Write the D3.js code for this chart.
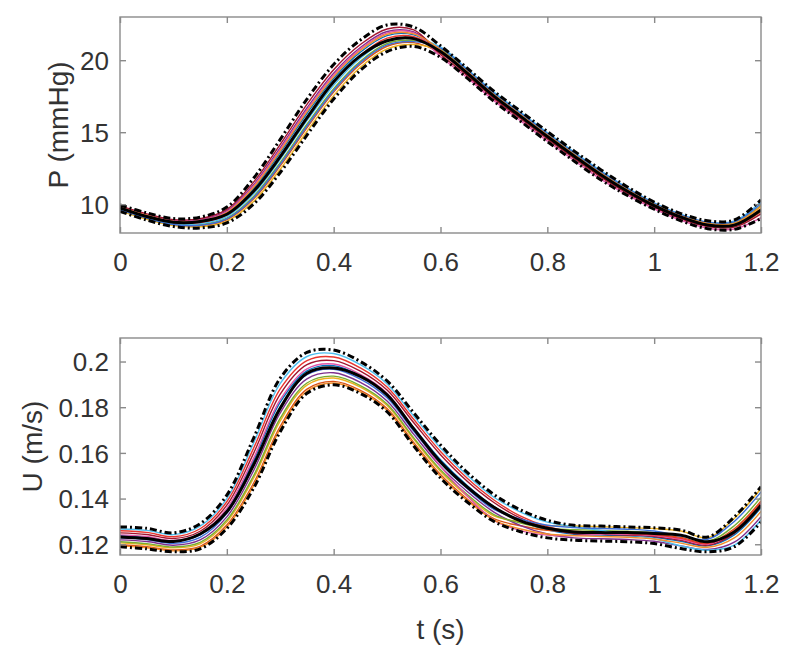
<!DOCTYPE html>
<html>
<head>
<meta charset="utf-8">
<script src="https://cdn.jsdelivr.net/npm/d3@7"></script>
<style>
  html, body { margin: 0; padding: 0; background: #fff; }
  svg { display: block; }
  text { font-family: "Liberation Sans", Arial, sans-serif; fill: #333; }
</style>
</head>
<body>
<svg id="chart" width="800" height="659"></svg>
<script>
// ---------------- DATA ----------------
const tValues = [0, 0.05, 0.1, 0.15, 0.2, 0.25, 0.3, 0.35, 0.4, 0.45, 0.5, 0.55, 0.6,
                 0.65, 0.7, 0.75, 0.8, 0.85, 0.9, 0.95, 1.0, 1.05, 1.1, 1.15, 1.2];

const xTicks = [0, 0.2, 0.4, 0.6, 0.8, 1.0, 1.2];
const xTickLabels = ["0", "0.2", "0.4", "0.6", "0.8", "1", "1.2"];
const pTicks = [10, 15, 20];
const pTickLabels = ["10", "15", "20"];
const uTicks = [0.12, 0.14, 0.16, 0.18, 0.2];
const uTickLabels = ["0.12", "0.14", "0.16", "0.18", "0.2"];

// Pressure (mmHg)
const pMean  = [9.75, 9.15, 8.75, 8.8, 9.3, 10.9, 13.3, 16.0, 18.5, 20.3, 21.35, 21.5, 20.6, 19.1, 17.5, 16.1, 14.7, 13.35, 12.05, 10.9, 9.9, 9.1, 8.55, 8.55, 9.6];
const pUpper = [9.95, 9.4, 9.0, 9.1, 9.8, 11.8, 14.5, 17.3, 19.7, 21.4, 22.45, 22.3, 21.0, 19.45, 17.85, 16.45, 15.05, 13.7, 12.4, 11.2, 10.15, 9.35, 8.85, 8.9, 10.3];
const pLower = [9.5, 8.9, 8.45, 8.35, 8.7, 10.0, 12.2, 14.8, 17.3, 19.3, 20.6, 20.95, 20.2, 18.75, 17.15, 15.75, 14.35, 13.0, 11.7, 10.6, 9.65, 8.85, 8.3, 8.25, 9.0];
const pRuns = [
  [9.77, 9.2, 8.78, 8.8, 9.36, 11.08, 13.58, 16.3, 18.74, 20.56, 21.71, 21.76, 20.68, 19.1, 17.5, 16.1, 14.7, 13.35, 12.05, 10.9, 9.9, 9.1, 8.58, 8.58, 9.65],
  [9.59, 9.0, 8.56, 8.5, 8.92, 10.36, 12.66, 15.3, 17.78, 19.72, 20.97, 21.22, 20.48, 19.0, 17.4, 16.0, 14.6, 13.25, 11.95, 10.81, 9.83, 9.03, 8.49, 8.48, 9.46],
  [9.55, 8.95, 8.51, 8.43, 8.81, 10.18, 12.43, 15.05, 17.54, 19.51, 20.79, 21.09, 20.64, 19.14, 17.54, 16.14, 14.74, 13.39, 12.09, 10.93, 9.93, 9.13, 8.6, 8.61, 9.72],
  [9.84, 9.28, 8.86, 8.91, 9.53, 11.35, 13.93, 16.68, 19.1, 20.88, 21.99, 21.96, 20.56, 19.07, 17.47, 16.07, 14.67, 13.32, 12.02, 10.87, 9.88, 9.08, 8.55, 8.54, 9.59],
  [9.64, 9.05, 8.62, 8.58, 9.03, 10.54, 12.89, 15.55, 18.02, 19.93, 21.16, 21.36, 20.76, 19.24, 17.64, 16.24, 14.84, 13.49, 12.19, 11.02, 10.0, 9.2, 8.69, 8.71, 9.91],
  [9.68, 9.1, 8.67, 8.65, 9.14, 10.72, 13.12, 15.8, 18.26, 20.14, 21.34, 21.49, 20.92, 19.38, 17.78, 16.38, 14.98, 13.63, 12.33, 11.14, 10.1, 9.3, 8.75, 8.84, 10.17],
  [9.88, 9.33, 8.92, 8.99, 9.64, 11.53, 14.16, 16.93, 19.34, 21.09, 22.17, 22.1, 20.4, 18.93, 17.33, 15.93, 14.53, 13.18, 11.88, 10.75, 9.78, 8.98, 8.44, 8.41, 9.33],
  [9.82, 9.25, 8.84, 8.88, 9.47, 11.26, 13.81, 16.55, 18.98, 20.77, 21.9, 21.9, 20.24, 18.79, 17.19, 15.79, 14.39, 13.04, 11.74, 10.63, 9.68, 8.88, 8.33, 8.28, 9.07],
  [9.73, 9.15, 8.73, 8.73, 9.25, 10.9, 13.35, 16.05, 18.5, 20.35, 21.53, 21.63, 20.6, 19.1, 17.5, 16.1, 14.7, 13.35, 12.05, 10.9, 9.9, 9.1, 8.58, 8.58, 9.65],
  [9.61, 9.03, 8.59, 8.54, 8.98, 10.45, 12.78, 15.43, 17.9, 19.83, 21.06, 21.29, 20.84, 19.31, 17.71, 16.31, 14.91, 13.56, 12.26, 11.08, 10.05, 9.25, 8.74, 8.77, 10.04],
  [9.79, 9.23, 8.81, 8.84, 9.42, 11.17, 13.7, 16.43, 18.86, 20.67, 21.8, 21.83, 20.72, 19.21, 17.61, 16.21, 14.81, 13.46, 12.16, 10.99, 9.98, 9.18, 8.66, 8.67, 9.85]
];

// Velocity (m/s)
const uMean  = [0.1232, 0.1225, 0.1212, 0.1245, 0.1342, 0.1547, 0.1796, 0.1949, 0.1972, 0.1935, 0.1854, 0.1705, 0.1560, 0.1450, 0.1362, 0.1302, 0.1270, 0.1254, 0.1251, 0.1251, 0.1247, 0.1240, 0.1211, 0.1254, 0.1371];
const uUpper = [0.1276, 0.1270, 0.1250, 0.1290, 0.1415, 0.1664, 0.1927, 0.2040, 0.2050, 0.2000, 0.1915, 0.1775, 0.1635, 0.1515, 0.1418, 0.1350, 0.1305, 0.1283, 0.1280, 0.1276, 0.1272, 0.1262, 0.1232, 0.1320, 0.1452];
const uLower = [0.1189, 0.1180, 0.1167, 0.1180, 0.1269, 0.1445, 0.1693, 0.1861, 0.1898, 0.1860, 0.1780, 0.1630, 0.1490, 0.1385, 0.1300, 0.1255, 0.1228, 0.1218, 0.1214, 0.1211, 0.1203, 0.1181, 0.1167, 0.1189, 0.1298];
const uRuns = [
  [0.1237, 0.1230, 0.1213, 0.1241, 0.1349, 0.1565, 0.1822, 0.1959, 0.1982, 0.1937, 0.1854, 0.1710, 0.1570, 0.1457, 0.1365, 0.1303, 0.1263, 0.1244, 0.1240, 0.1237, 0.1231, 0.1213, 0.1193, 0.1241, 0.1360],
  [0.1198, 0.1189, 0.1175, 0.1191, 0.1284, 0.1467, 0.1716, 0.1879, 0.1913, 0.1874, 0.1794, 0.1645, 0.1505, 0.1398, 0.1312, 0.1281, 0.1261, 0.1257, 0.1254, 0.1250, 0.1244, 0.1230, 0.1206, 0.1268, 0.1390],
  [0.1206, 0.1198, 0.1184, 0.1202, 0.1298, 0.1489, 0.1740, 0.1897, 0.1928, 0.1888, 0.1807, 0.1659, 0.1519, 0.1411, 0.1324, 0.1298, 0.1282, 0.1280, 0.1277, 0.1273, 0.1269, 0.1258, 0.1229, 0.1313, 0.1444],
  [0.1219, 0.1212, 0.1196, 0.1219, 0.1320, 0.1522, 0.1775, 0.1924, 0.1951, 0.1909, 0.1827, 0.1681, 0.1541, 0.1431, 0.1341, 0.1282, 0.1245, 0.1228, 0.1224, 0.1221, 0.1213, 0.1193, 0.1177, 0.1209, 0.1321],
  [0.1211, 0.1203, 0.1188, 0.1208, 0.1306, 0.1500, 0.1752, 0.1906, 0.1936, 0.1895, 0.1814, 0.1666, 0.1526, 0.1418, 0.1330, 0.1293, 0.1270, 0.1264, 0.1260, 0.1257, 0.1251, 0.1238, 0.1213, 0.1281, 0.1406],
  [0.1267, 0.1261, 0.1242, 0.1279, 0.1400, 0.1642, 0.1904, 0.2022, 0.2035, 0.1986, 0.1902, 0.1761, 0.1621, 0.1502, 0.1406, 0.1341, 0.1297, 0.1277, 0.1260, 0.1244, 0.1224, 0.1193, 0.1174, 0.1196, 0.1306],
  [0.1250, 0.1243, 0.1225, 0.1257, 0.1371, 0.1598, 0.1857, 0.1986, 0.2004, 0.1958, 0.1875, 0.1732, 0.1592, 0.1476, 0.1383, 0.1314, 0.1269, 0.1247, 0.1244, 0.1240, 0.1234, 0.1217, 0.1196, 0.1248, 0.1367],
  [0.1241, 0.1234, 0.1217, 0.1246, 0.1357, 0.1576, 0.1833, 0.1968, 0.1989, 0.1944, 0.1861, 0.1703, 0.1541, 0.1411, 0.1306, 0.1260, 0.1240, 0.1238, 0.1244, 0.1244, 0.1238, 0.1222, 0.1200, 0.1255, 0.1375],
  [0.1259, 0.1252, 0.1233, 0.1268, 0.1386, 0.1620, 0.1880, 0.2004, 0.2020, 0.1972, 0.1888, 0.1746, 0.1606, 0.1489, 0.1394, 0.1323, 0.1277, 0.1254, 0.1250, 0.1247, 0.1241, 0.1226, 0.1203, 0.1261, 0.1383],
  [0.1228, 0.1221, 0.1204, 0.1230, 0.1335, 0.1544, 0.1798, 0.1942, 0.1966, 0.1923, 0.1841, 0.1695, 0.1555, 0.1444, 0.1353, 0.1310, 0.1283, 0.1273, 0.1269, 0.1266, 0.1258, 0.1236, 0.1222, 0.1300, 0.1429],
  [0.1193, 0.1185, 0.1171, 0.1186, 0.1276, 0.1456, 0.1705, 0.1870, 0.1906, 0.1867, 0.1787, 0.1637, 0.1497, 0.1392, 0.1306, 0.1267, 0.1245, 0.1238, 0.1234, 0.1231, 0.1223, 0.1205, 0.1187, 0.1228, 0.1344]
];

const runColors = ["#0072BD", "#D95319", "#EDB120", "#7E2F8E", "#77AC30", "#4DBEEE",
                   "#A2142F", "#E056A8", "#E8352E", "#3C6FD8", "#F28E2B"];

// ---------------- DRAW ----------------
const svg = d3.select("#chart");
svg.append("rect").attr("width", 800).attr("height", 659).attr("fill", "#fff");

const X0 = 120, X1 = 761;
const x = d3.scaleLinear().domain([0, 1.2]).range([X0, X1]);

function panel(opts) {
  const { top, bottom, domain, ticks, tickLabels, mean, upper, lower, runs, id, ylabel, ylabelX } = opts;
  const y = d3.scaleLinear().domain(domain).range([bottom, top]);
  const g = svg.append("g");

  g.append("clipPath").attr("id", id)
    .append("rect").attr("x", X0).attr("y", top).attr("width", X1 - X0).attr("height", bottom - top);

  const line = arr => d3.line()
    .x((d, i) => x(tValues[i]))
    .y(d => y(d))
    .curve(d3.curveCatmullRom.alpha(0.5))(arr);

  const plot = g.append("g").attr("clip-path", `url(#${id})`);
  runs.forEach((r, i) => {
    plot.append("path").attr("d", line(r)).attr("fill", "none")
      .attr("stroke", runColors[i % runColors.length]).attr("stroke-width", 1.4);
  });
  plot.append("path").attr("d", line(mean)).attr("fill", "none")
    .attr("stroke", "#000").attr("stroke-width", 3);
  [upper, lower].forEach(arr => {
    plot.append("path").attr("d", line(arr)).attr("fill", "none")
      .attr("stroke", "#000").attr("stroke-width", 3)
      .attr("stroke-dasharray", "7,3,2,3");
  });

  // box + ticks
  const axisColor = "#8a8a8a";
  g.append("rect").attr("x", X0).attr("y", top).attr("width", X1 - X0).attr("height", bottom - top)
    .attr("fill", "none").attr("stroke", axisColor).attr("stroke-width", 1.4);

  const tl = 6;
  const axB = d3.axisBottom(x).tickValues(xTicks).tickSize(-tl).tickFormat((d, i) => xTickLabels[i]);
  const gx = g.append("g").attr("transform", `translate(0,${bottom})`).call(axB);
  const axT = d3.axisTop(x).tickValues(xTicks).tickSize(-tl).tickFormat("");
  const gxt = g.append("g").attr("transform", `translate(0,${top})`).call(axT);
  const axL = d3.axisLeft(y).tickValues(ticks).tickSize(-tl).tickFormat((d, i) => tickLabels[i]);
  const gy = g.append("g").attr("transform", `translate(${X0},0)`).call(axL);
  const axR = d3.axisRight(y).tickValues(ticks).tickSize(-tl).tickFormat("");
  const gyr = g.append("g").attr("transform", `translate(${X1},0)`).call(axR);

  [gx, gxt, gy, gyr].forEach(a => {
    a.select(".domain").remove();
    a.selectAll(".tick line").attr("stroke", axisColor).attr("stroke-width", 1.4);
    a.selectAll("text").style("font-size", "26px").attr("fill", "#333")
      .style("font-family", '"Liberation Sans", Arial, sans-serif');
  });
  gx.selectAll(".tick text").attr("y", 20).attr("dy", "0.71em");
  gy.selectAll(".tick text").attr("x", -11).attr("dy", "0.35em");

  g.append("text")
    .attr("transform", `translate(${ylabelX},${(top + bottom) / 2}) rotate(-90)`)
    .attr("text-anchor", "middle").attr("dominant-baseline", "central")
    .style("font-size", "28px").text(ylabel);
  return y;
}

panel({ top: 17, bottom: 233, domain: [8, 23], ticks: pTicks, tickLabels: pTickLabels,
        mean: pMean, upper: pUpper, lower: pLower, runs: pRuns, id: "clipP",
        ylabel: "P (mmHg)", ylabelX: 58 });
panel({ top: 338, bottom: 555, domain: [0.1153, 0.2103], ticks: uTicks, tickLabels: uTickLabels,
        mean: uMean, upper: uUpper, lower: uLower, runs: uRuns, id: "clipU",
        ylabel: "U (m/s)", ylabelX: 32 });

svg.append("text").attr("x", (X0 + X1) / 2).attr("y", 629)
  .attr("text-anchor", "middle").attr("dominant-baseline", "central")
  .style("font-size", "28px").text("t (s)");
</script>
</body>
</html>
